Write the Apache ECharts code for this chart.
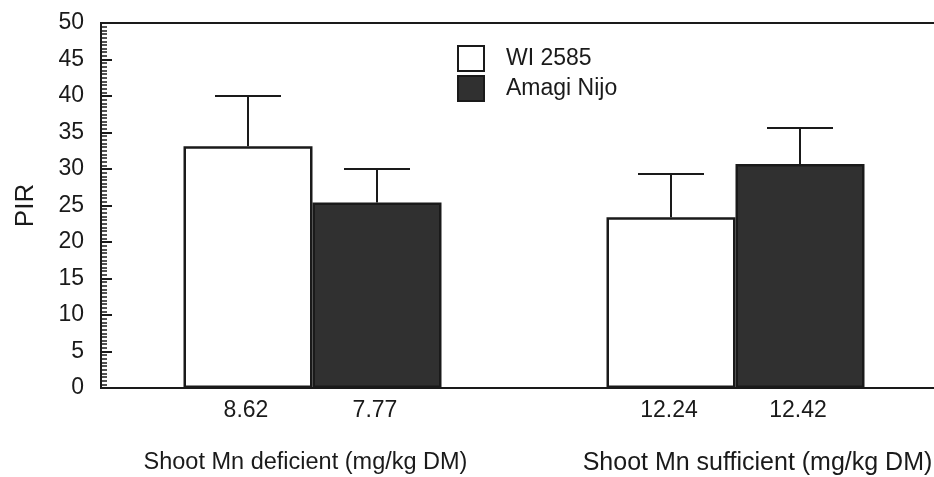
<!DOCTYPE html>
<html>
<head>
<meta charset="utf-8">
<script src="https://cdn.jsdelivr.net/npm/echarts@6/dist/echarts.min.js"></script>
<style>
  html, body { margin: 0; padding: 0; background: #fff; }
  #chart { width: 934px; height: 477px; }
</style>
</head>
<body>
<div id="chart"></div>
<script>
// Shoot Mn status groups
const categories = ['Shoot Mn deficient (mg/kg DM)', 'Shoot Mn sufficient (mg/kg DM)'];
// Cultivars
const cultivars = ['WI 2585', 'Amagi Nijo'];
// Mean PIR per group
const wiMean = [33.1, 23.4];
const amagiMean = [25.4, 30.7];
// Upper end of the error bar (mean + SE)
const wiUpper = [40.0, 29.3];
const amagiUpper = [30.0, 35.6];
// Shoot Mn concentration shown under each bar
const wiMn = ['8.62', '12.24'];
const amagiMn = ['7.77', '12.42'];
// Y axis ticks
const yTicks = [0, 5, 10, 15, 20, 25, 30, 35, 40, 45, 50];

const BAR_W = 129;
const CAP_W = 66;
const FONT = '"Liberation Sans", Arial, Helvetica, sans-serif';
const INK = '#1a1a1a';

const chart = echarts.init(document.getElementById('chart'), null, { renderer: 'canvas' });

// error bar and under-bar label records: [categoryIndex, mean, upper, side]
const errData = [];
const mnData = [];
for (let i = 0; i < categories.length; i++) {
  errData.push([i, wiMean[i], wiUpper[i], -1]);
  errData.push([i, amagiMean[i], amagiUpper[i], 1]);
  mnData.push([i, 0, wiMn[i], -1]);
  mnData.push([i, 0, amagiMn[i], 1]);
}

function renderErr(params, api) {
  const c = api.value(0);
  const side = api.value(3);
  const base = api.coord([c, api.value(1)]);
  const top = api.coord([c, api.value(2)]);
  const x = base[0] + side * BAR_W / 2;
  const style = { stroke: INK, lineWidth: 2 };
  return {
    type: 'group',
    children: [
      { type: 'line', shape: { x1: x, y1: base[1], x2: x, y2: top[1] }, style },
      { type: 'line', shape: { x1: x - CAP_W / 2, y1: top[1], x2: x + CAP_W / 2, y2: top[1] }, style }
    ]
  };
}

function renderMn(params, api) {
  const c = api.value(0);
  const side = api.value(3);
  const p = api.coord([c, 0]);
  return {
    type: 'text',
    x: p[0] + side * BAR_W / 2 - 2,
    y: p[1] + 23,
    style: {
      text: mnData[params.dataIndex][2],
      fill: INK,
      font: '23px ' + FONT,
      align: 'center',
      verticalAlign: 'middle'
    }
  };
}

chart.setOption({
  animation: false,
  backgroundColor: '#fff',
  grid: {
    left: 101, top: 23, width: 846, bottom: 89,
    outerBoundsMode: 'none',
    containLabel: false,
    show: true, borderColor: INK, borderWidth: 2, backgroundColor: 'transparent'
  },
  legend: {
    data: cultivars,
    orient: 'vertical',
    left: 452, top: 40,
    itemWidth: 26, itemHeight: 25, itemGap: 3,
    icon: 'rect',
    selectedMode: false,
    textStyle: { fontFamily: FONT, fontSize: 23, color: INK, padding: [0, 0, 0, 17] }
  },
  xAxis: {
    type: 'category',
    data: [
      { value: categories[0], textStyle: { fontSize: 23.5, padding: [0, 14, 0, 0] } },
      { value: categories[1], textStyle: { fontSize: 25, padding: [0, 0, 0, 44] } }
    ],
    axisLine: { lineStyle: { color: INK, width: 2 } },
    axisTick: { show: false },
    axisLabel: {
      fontFamily: FONT, fontSize: 24, color: INK, margin: 63,
      interval: 0, hideOverlap: false, showMinLabel: true, showMaxLabel: true
    }
  },
  yAxis: {
    type: 'value',
    min: yTicks[0], max: yTicks[yTicks.length - 1], interval: yTicks[1] - yTicks[0],
    name: 'PIR',
    nameLocation: 'middle',
    nameGap: 62,
    nameRotate: 90,
    nameTextStyle: { fontFamily: FONT, fontSize: 26, color: INK },
    axisLine: { show: true, lineStyle: { color: INK, width: 2 } },
    axisTick: { show: true, inside: true, length: 11, lineStyle: { color: INK, width: 2 } },
    minorTick: { show: true, splitNumber: 10, length: 6, lineStyle: { color: INK, width: 1.5 } },
    splitLine: { show: false },
    axisLabel: { fontFamily: FONT, fontSize: 23, color: INK, margin: 17 }
  },
  series: [
    {
      name: cultivars[0], type: 'bar', data: wiMean,
      barWidth: BAR_W, barGap: '0%',
      itemStyle: { color: '#ffffff', borderColor: INK, borderWidth: 2.5 },
      z: 2
    },
    {
      name: cultivars[1], type: 'bar', data: amagiMean,
      barWidth: BAR_W, barGap: '0%',
      itemStyle: { color: '#303030', borderColor: INK, borderWidth: 2.5 },
      z: 2
    },
    {
      type: 'custom', data: errData, renderItem: renderErr,
      encode: { x: 0, y: [1, 2] }, z: 3, silent: true
    },
    {
      type: 'custom', data: mnData, renderItem: renderMn,
      encode: { x: 0, y: 1 }, z: 3, silent: true, clip: false
    }
  ]
});
</script>
</body>
</html>
